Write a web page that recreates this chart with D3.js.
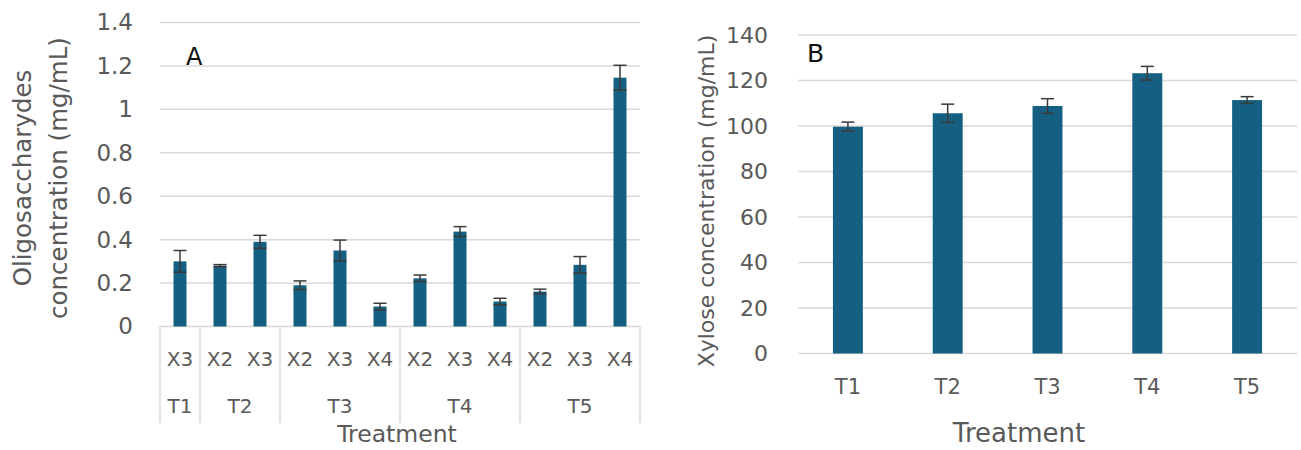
<!DOCTYPE html>
<html>
<head>
<meta charset="utf-8">
<script src="https://cdn.jsdelivr.net/npm/d3@7"></script>
<style>
  html, body { margin: 0; padding: 0; background: #ffffff; }
  svg { display: block; }
  text { font-family: "DejaVu Sans", sans-serif; }
</style>
</head>
<body>
<svg id="chart" width="1301" height="450"></svg>
<script>
// ---- Panel A data ----
const oligoTreatments = ["T1","T2","T2","T3","T3","T3","T4","T4","T4","T5","T5","T5"];
const oligoXylo       = ["X3","X2","X3","X2","X3","X4","X2","X3","X4","X2","X3","X4"];
const oligoValues     = [0.30, 0.28, 0.39, 0.19, 0.35, 0.092, 0.222, 0.437, 0.115, 0.161, 0.284, 1.146];
const oligoErrors     = [0.05, 0.005, 0.03, 0.02, 0.048, 0.015, 0.015, 0.023, 0.015, 0.011, 0.038, 0.057];
const oligoTicks      = [0, 0.2, 0.4, 0.6, 0.8, 1, 1.2, 1.4];

// ---- Panel B data ----
const xyloseTreatments = ["T1","T2","T3","T4","T5"];
const xyloseValues     = [99.7, 105.6, 108.8, 123.2, 111.4];
const xyloseErrors     = [2, 4, 3.2, 3, 1.5];
const xyloseTicks      = [0, 20, 40, 60, 80, 100, 120, 140];

const BAR = "#156082", GRID = "#d9d9d9", TXT = "#595959", ERR = "#3a3a3a";
const svg = d3.select("#chart");

// ================= Panel A =================
{
  const keys = oligoXylo.map((x, i) => oligoTreatments[i] + "|" + x + "|" + i);
  const x = d3.scaleBand().domain(keys).range([160, 640]).paddingInner(0.675).paddingOuter(0.3375);
  const y = d3.scaleLinear().domain([0, 1.4]).range([326.5, 22.5]);
  const g = svg.append("g");

  g.append("g").selectAll("line").data(oligoTicks).join("line")
    .attr("x1", 160).attr("x2", 640)
    .attr("y1", d => y(d)).attr("y2", d => y(d))
    .attr("stroke", GRID).attr("stroke-width", 1.5);

  const ya = g.append("g").attr("transform", "translate(160,0)")
    .call(d3.axisLeft(y).tickValues(oligoTicks).tickSize(0).tickPadding(27).tickFormat(d3.format("~g")));
  ya.select(".domain").remove();
  ya.selectAll("text").attr("fill", TXT).style("font-size", "23px").style("font-family", "DejaVu Sans");

  g.append("g").selectAll("rect").data(keys).join("rect")
    .attr("x", d => x(d)).attr("width", x.bandwidth())
    .attr("y", (d, i) => y(oligoValues[i]))
    .attr("height", (d, i) => y(0) - y(oligoValues[i]))
    .attr("fill", BAR);

  const eb = g.append("g").attr("stroke", ERR).attr("stroke-width", 1.5);
  keys.forEach((k, i) => {
    const cx = x(k) + x.bandwidth() / 2;
    const lo = y(oligoValues[i] - oligoErrors[i]), hi = y(oligoValues[i] + oligoErrors[i]);
    eb.append("line").attr("x1", cx).attr("x2", cx).attr("y1", lo).attr("y2", hi);
    eb.append("line").attr("x1", cx - 6.5).attr("x2", cx + 6.5).attr("y1", hi).attr("y2", hi);
    eb.append("line").attr("x1", cx - 6.5).attr("x2", cx + 6.5).attr("y1", lo).attr("y2", lo);
  });

  g.append("g").selectAll("text").data(keys).join("text")
    .attr("x", d => x(d) + x.bandwidth() / 2).attr("y", 366)
    .attr("text-anchor", "middle").attr("fill", TXT).style("font-size", "20px")
    .text((d, i) => oligoXylo[i]);

  const step = x.step();
  const groups = [];
  oligoTreatments.forEach((t, i) => {
    const last = groups[groups.length - 1];
    if (last && last.name === t) last.end = i; else groups.push({ name: t, start: i, end: i });
  });
  const x0 = 160;
  const bounds = [x0].concat(groups.map(gr => x0 + (gr.end + 1) * step));
  g.append("g").selectAll("line").data(bounds).join("line")
    .attr("x1", d => d).attr("x2", d => d).attr("y1", y(0)).attr("y2", 423)
    .attr("stroke", GRID).attr("stroke-width", 1.5);
  g.append("g").selectAll("text").data(groups).join("text")
    .attr("x", gr => x0 + (gr.start + gr.end + 1) / 2 * step).attr("y", 413)
    .attr("text-anchor", "middle").attr("fill", TXT).style("font-size", "20px")
    .text(gr => gr.name);

  g.append("text").attr("x", 397).attr("y", 442).attr("text-anchor", "middle")
    .attr("fill", TXT).style("font-size", "23.5px").text("Treatment");

  const yt = g.append("text").attr("transform", "translate(0,178) rotate(-90)")
    .attr("text-anchor", "middle").attr("fill", TXT).style("font-size", "24.5px");
  yt.append("tspan").attr("x", 0).attr("y", 31).text("Oligosaccharydes");
  yt.append("tspan").attr("x", 0).attr("y", 67).text("concentration (mg/mL)");

  g.append("text").attr("x", 186).attr("y", 65).attr("fill", "#111").style("font-size", "24px").text("A");
}

// ================= Panel B =================
{
  const x = d3.scaleBand().domain(xyloseTreatments).range([798, 1297]).paddingInner(0.7).paddingOuter(0.35);
  const y = d3.scaleLinear().domain([0, 140]).range([353.5, 35]);
  const g = svg.append("g");

  g.append("g").selectAll("line").data(xyloseTicks).join("line")
    .attr("x1", 798).attr("x2", 1297)
    .attr("y1", d => y(d)).attr("y2", d => y(d))
    .attr("stroke", GRID).attr("stroke-width", 1.5);

  const ya = g.append("g").attr("transform", "translate(798,0)")
    .call(d3.axisLeft(y).tickValues(xyloseTicks).tickSize(0).tickPadding(30));
  ya.select(".domain").remove();
  ya.selectAll("text").attr("fill", TXT).style("font-size", "22px").style("font-family", "DejaVu Sans");

  g.append("g").selectAll("rect").data(xyloseTreatments).join("rect")
    .attr("x", d => x(d)).attr("width", x.bandwidth())
    .attr("y", (d, i) => y(xyloseValues[i]))
    .attr("height", (d, i) => y(0) - y(xyloseValues[i]))
    .attr("fill", BAR);

  const eb = g.append("g").attr("stroke", ERR).attr("stroke-width", 1.5);
  xyloseTreatments.forEach((k, i) => {
    const cx = x(k) + x.bandwidth() / 2;
    const lo = y(xyloseValues[i] - xyloseErrors[i]), hi = y(xyloseValues[i] + xyloseErrors[i]);
    eb.append("line").attr("x1", cx).attr("x2", cx).attr("y1", lo).attr("y2", hi);
    eb.append("line").attr("x1", cx - 6.5).attr("x2", cx + 6.5).attr("y1", hi).attr("y2", hi);
    eb.append("line").attr("x1", cx - 6.5).attr("x2", cx + 6.5).attr("y1", lo).attr("y2", lo);
  });

  const xa = g.append("g").attr("transform", "translate(0,353.5)")
    .call(d3.axisBottom(x).tickSize(0).tickPadding(26));
  xa.select(".domain").remove();
  xa.selectAll("text").attr("fill", TXT).style("font-size", "21px").style("font-family", "DejaVu Sans");

  g.append("text").attr("x", 1019).attr("y", 442).attr("text-anchor", "middle")
    .attr("fill", TXT).style("font-size", "26px").text("Treatment");

  g.append("text").attr("transform", "translate(714,201) rotate(-90)")
    .attr("text-anchor", "middle").attr("fill", TXT).style("font-size", "22px")
    .text("Xylose concentration (mg/mL)");

  g.append("text").attr("x", 807).attr("y", 62).attr("fill", "#111").style("font-size", "25px").text("B");
}
</script>
</body>
</html>
